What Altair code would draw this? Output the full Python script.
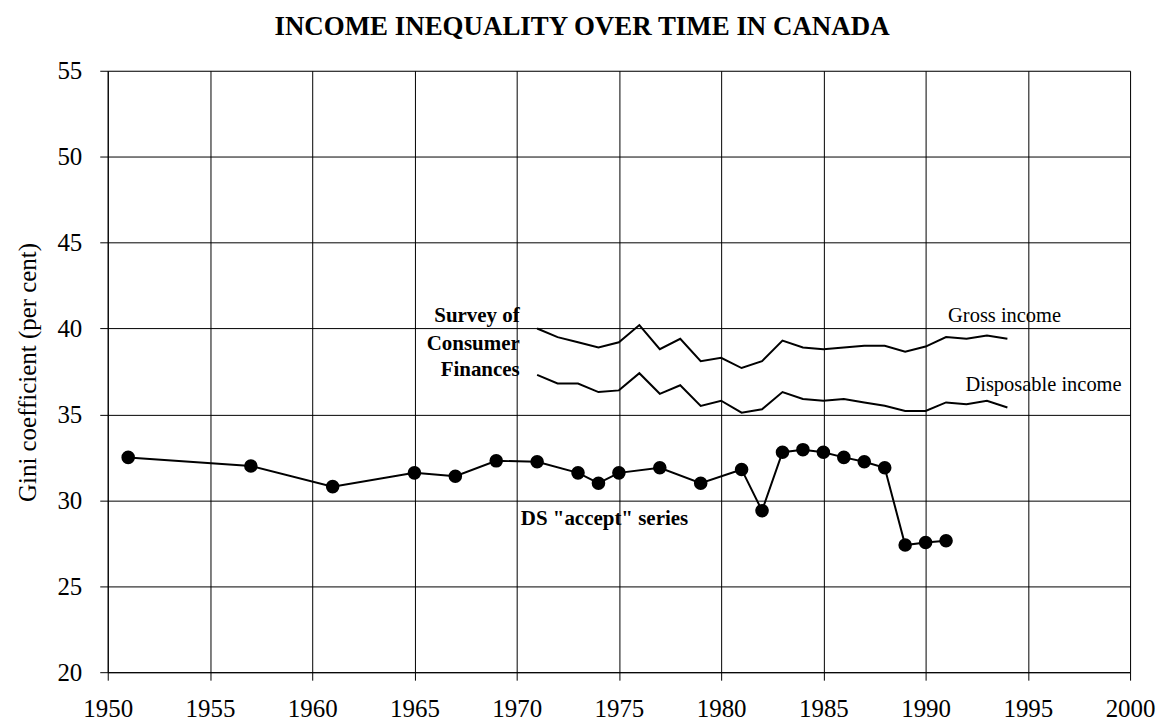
import altair as alt
import pandas as pd

# DS "accept" series
ds_years = [1951, 1957, 1961, 1965, 1967, 1969, 1971, 1973, 1974, 1975, 1977, 1979,
            1981, 1982, 1983, 1984, 1985, 1986, 1987, 1988, 1989, 1990, 1991]
ds_gini = [32.5, 32.0, 30.8, 31.6, 31.4, 32.3, 32.25, 31.6, 31.0, 31.6, 31.9, 31.0,
           31.8, 29.4, 32.8, 32.95, 32.8, 32.5, 32.25, 31.9, 27.4, 27.55, 27.65]

# Survey of Consumer Finances
scf_years = list(range(1971, 1995))
scf_gross = [40.0, 39.5, 39.2, 38.9, 39.2, 40.2, 38.8, 39.4, 38.1, 38.3, 37.7, 38.1,
             39.3, 38.9, 38.8, 38.9, 39.0, 39.0, 38.65, 38.95, 39.5, 39.4, 39.6, 39.4]
scf_disp = [37.3, 36.8, 36.8, 36.3, 36.4, 37.4, 36.2, 36.7, 35.5, 35.8, 35.1, 35.3,
            36.3, 35.9, 35.8, 35.9, 35.7, 35.5, 35.2, 35.2, 35.7, 35.6, 35.8, 35.4]

x_ticks = [1950, 1955, 1960, 1965, 1970, 1975, 1980, 1985, 1990, 1995, 2000]
y_ticks = [20, 25, 30, 35, 40, 45, 50, 55]

title_text = ["INCOME INEQUALITY OVER TIME IN CANADA"]

bold_labels = ["Survey of", "Consumer", "Finances", 'DS "accept" series']
bold_x = [1970.15, 1970.15, 1970.15, 1970.2]
bold_y = [40.71, 39.11, 37.56, 28.91]
bold_align = ["right", "right", "right", "left"]

plain_labels = ["Gross income", "Disposable income"]
plain_x = [1991.1, 1991.95]
plain_y = [40.71, 36.74]

FONT = "Liberation Serif"

ds_df = pd.DataFrame({"year": ds_years, "gini": ds_gini})
scf_df = pd.DataFrame({
    "year": scf_years * 2,
    "gini": scf_gross + scf_disp,
    "series": ["Gross income"] * len(scf_years) + ["Disposable income"] * len(scf_years),
})
bold_df = pd.DataFrame({"year": bold_x, "gini": bold_y, "label": bold_labels, "align": bold_align})
plain_df = pd.DataFrame({"year": plain_x, "gini": plain_y, "label": plain_labels})
title_df = pd.DataFrame({"label": title_text})

x_scale = alt.Scale(domain=[1950, 2000], nice=False, zero=False)
y_scale = alt.Scale(domain=[20, 55], nice=False, zero=False)

x_enc = alt.X("year:Q", scale=x_scale, axis=alt.Axis(
    values=x_ticks, format="d", title=None, grid=True, gridColor="black", gridWidth=1,
    gridOpacity=1, domain=True, domainColor="black", ticks=True, tickColor="black",
    tickSize=8, labelFont=FONT, labelFontSize=25, labelColor="black", labelPadding=16,
    labelFlush=False, labelOverlap=False))
y_enc = alt.Y("gini:Q", scale=y_scale, axis=alt.Axis(
    values=y_ticks, title="Gini coefficient (per cent)", grid=True, gridColor="black",
    gridWidth=1, gridOpacity=1, domain=True, domainColor="black", ticks=True,
    tickColor="black", tickSize=8, labelFont=FONT, labelFontSize=25, labelColor="black",
    labelPadding=18, labelFlush=False, labelOverlap=False, titleFont=FONT,
    titleFontSize=25, titleFontWeight="normal", titleColor="black", titleAngle=270,
    titleX=-80, titleY=302, titleAlign="center", titleBaseline="middle"))

ds_line = alt.Chart(ds_df).mark_line(color="black", strokeWidth=2).encode(x=x_enc, y=y_enc)
ds_pts = alt.Chart(ds_df).mark_circle(color="black", size=185, opacity=1).encode(x="year:Q", y="gini:Q")
scf_lines = alt.Chart(scf_df).mark_line(color="black", strokeWidth=2).encode(
    x="year:Q", y="gini:Q", detail="series:N")

bold_right = alt.Chart(bold_df[bold_df["align"] == "right"]).mark_text(
    font=FONT, fontSize=21, fontWeight="bold", align="right", baseline="middle", color="black"
).encode(x="year:Q", y="gini:Q", text="label:N")
bold_left = alt.Chart(bold_df[bold_df["align"] == "left"]).mark_text(
    font=FONT, fontSize=21, fontWeight="bold", align="left", baseline="middle", color="black"
).encode(x="year:Q", y="gini:Q", text="label:N")
plain_text = alt.Chart(plain_df).mark_text(
    font=FONT, fontSize=20.5, align="left", baseline="middle", color="black"
).encode(x="year:Q", y="gini:Q", text="label:N")

title_mark = alt.Chart(title_df).mark_text(
    font=FONT, fontSize=27, fontWeight="bold", align="center", baseline="middle", color="black"
).encode(x=alt.value(475.5), y=alt.value(-44), text="label:N")

chart = alt.layer(ds_line, scf_lines, ds_pts, bold_right, bold_left, plain_text, title_mark).properties(
    width=1025, height=603,
    autosize=alt.AutoSizeParams(type="none"),
    padding={"left": 100, "top": 62, "right": 30, "bottom": 48},
).configure_view(stroke="black", strokeWidth=1).configure(background="white")

chart.save("out.html", embed_options={"renderer": "svg", "actions": False})
